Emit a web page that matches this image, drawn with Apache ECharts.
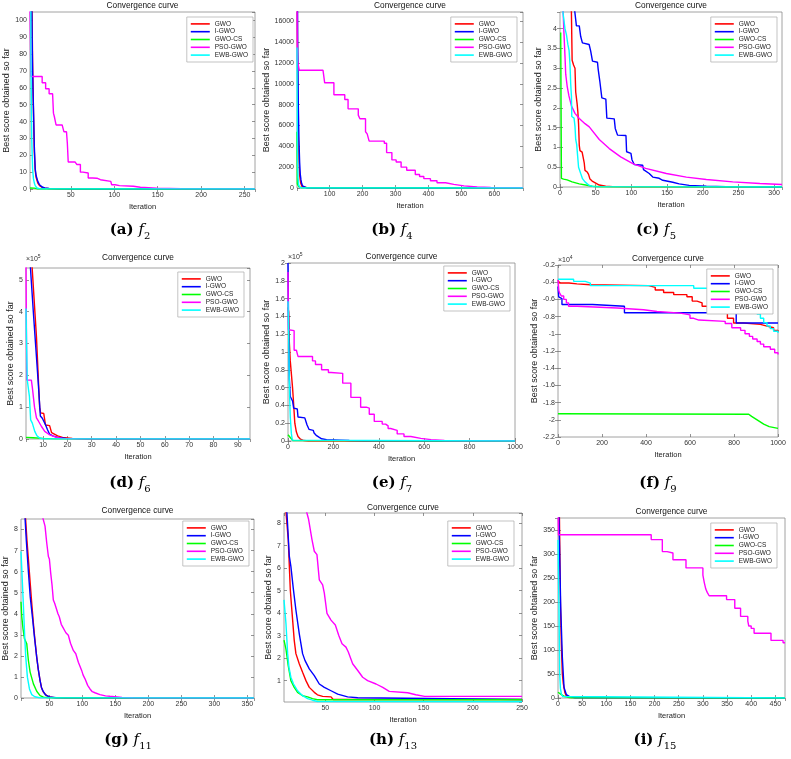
<!DOCTYPE html>
<html><head><meta charset="utf-8">
<script src="https://cdn.jsdelivr.net/npm/echarts@6/dist/echarts.min.js"></script>
<style>html,body{margin:0;padding:0;background:#fff}#c{width:791px;height:759px}</style>
</head><body><div id="c"></div>
<script>
// ---------------- DATA ----------------
const seriesNames = ['GWO', 'I-GWO', 'GWO-CS', 'PSO-GWO', 'EWB-GWO'];

// (a) f2
const f2_xRange = [3, 262, 50];
const f2_yRange = [0, 105, 10];
const f2_GWO = [[3,450],[4,220],[5,120],[6,75],[7,45],[8,22],[9,11],[10,7],[12,3.5],[14,2],[17,1],[20,0.5],[25,0.2],[35,0.05],[262,0]];
const f2_IGWO = [[3,400],[4,200],[5,110],[6,70],[7,48],[8,25],[9,12],[10,8],[12,4.5],[14,2.5],[17,1.2],[20,0.6],[25,0.3],[35,0.1],[50,0.03],[262,0]];
const f2_GWOCS = [[3,0.6],[8,0.5],[10,0.1],[12,0],[262,0]];
const f2_PSOGWO = [[3,110],[4,66.7],[17,63],[21,59.5],[25,56.5],[29,55.5],[30,45],[31,43],[33,38],[40,37],[42,34],[45,33],[46,27],[47,16],[55,15.5],[57,14.5],[61,10],[64,9.5],[70,6.5],[75,6.4],[80,5.5],[84,4.5],[96,3.5],[97,2.5],[101,2],[106,1.6],[122,1],[130,0.5],[149,0.25],[177,0.05],[262,0.02]];
const f2_EWBGWO = [[3,600],[4,80],[5,30],[6,12],[7,6],[8,3.5],[9,2],[11,0.6],[15,0.1],[262,0]];

// (b) f4
const f4_xRange = [1, 687, 100];
const f4_yRange = [0, 16900, 2000];
const f4_GWO = [[1,25000],[3,10000],[5,5000],[7,2500],[9,1200],[12,500],[16,150],[22,40],[35,5],[687,0]];
const f4_IGWO = [[1,30000],[3,14000],[5,8000],[7,4500],[9,2500],[11,1300],[13,800],[15,450],[18,200],[22,80],[30,20],[50,5],[687,0]];
const f4_GWOCS = [[1,5400],[2,400],[4,300],[6,150],[9,50],[14,10],[687,0]];
const f4_PSOGWO = [[1,20000],[2,12300],[8,11300],[80,11200],[85,10100],[113,8950],[146,8500],[156,7600],[187,7000],[192,6650],[209,5400],[214,5200],[220,4500],[266,4300],[273,3400],[289,2700],[302,2500],[317,2000],[334,1700],[360,1300],[373,1100],[386,900],[406,700],[426,500],[452,350],[477,200],[508,100],[548,50],[589,20],[687,5]];
const f4_EWBGWO = [[1,13500],[2,6000],[3,2500],[4,1000],[6,300],[10,50],[20,5],[687,0]];

// (c) f5
const f5_xRange = [0, 311, 50];
const f5_yRange = [0, 4.42, 0.5];
const f5_GWO = [[1,30],[10,8],[15,4.8],[16,4.4],[17,3.2],[19,3.08],[21,3.0],[22,2.4],[24,2.1],[25,1.9],[26,1.6],[27,1.05],[28,0.92],[31,0.88],[33,0.7],[34,0.6],[35,0.42],[38,0.38],[40,0.32],[42,0.2],[45,0.15],[50,0.1],[55,0.05],[64,0.02],[74,0.01],[100,0.003],[311,0]];
const f5_IGWO = [[1,40],[15,8],[20.6,4.45],[23,4.07],[27,4.07],[29,3.8],[31.4,3.64],[40.8,3.6],[43,3.43],[45.5,3.18],[52.5,3.15],[53.5,2.97],[55.8,2.67],[58.6,2.25],[64.2,2.22],[65.6,1.74],[76,1.72],[77.4,1.48],[80.6,1.31],[92.4,1.3],[93.3,0.89],[99.4,0.85],[100.8,0.69],[104,0.57],[115.8,0.55],[117,0.44],[125,0.34],[130,0.25],[139,0.22],[144,0.17],[158,0.12],[167,0.08],[181,0.04],[205,0.02],[233,0.01],[280,0.003],[311,0.001]];
const f5_GWOCS = [[1,3.9],[2,0.22],[5,0.2],[10,0.18],[17,0.13],[27,0.08],[36,0.05],[45,0.02],[55,0.005],[311,0]];
const f5_PSOGWO = [[1,12],[3,5.5],[4,4.6],[5.5,3.9],[7,3.3],[8,2.85],[10,2.55],[12.5,2.3],[16,2.05],[21,1.86],[27,1.73],[35,1.6],[41,1.52],[55,1.2],[69,0.97],[85,0.76],[102,0.59],[120,0.47],[149,0.34],[177,0.25],[205,0.19],[242,0.13],[280,0.09],[311,0.065]];
const f5_EWBGWO = [[1,40],[3,6],[4.2,4.4],[7,4.0],[9,3.85],[11,3.6],[12.7,3.45],[14,3.1],[15,2.6],[16,2.3],[16.5,1.78],[19.7,1.74],[21,1.53],[22,1.2],[23.4,1.07],[24.4,0.85],[26,0.5],[29,0.34],[31.5,0.21],[35,0.13],[41,0.04],[47,0.01],[311,0]];

// (d) f6  (values x 10^5)
const f6_xRange = [3, 95, 10];
const f6_yRange = [0, 5.37, 1];
const f6_yExp = '5';
const f6_GWO = [[3,9],[4,7],[5.5,5.4],[7.3,3.2],[8.6,1.0],[9,0.82],[10.3,0.8],[11,0.44],[12.7,0.42],[13.5,0.2],[14.1,0.14],[16,0.1],[18,0.05],[22,0.02],[30,0.005],[95,0]];
const f6_IGWO = [[3,8],[4.8,5.4],[6,4.0],[7,2.9],[8,1.8],[8.9,0.72],[9.7,0.65],[11,0.45],[11.8,0.3],[12.7,0.15],[14,0.1],[16,0.05],[19.5,0.02],[28,0.005],[95,0]];
const f6_GWOCS = [[3,0.05],[6,0.04],[10,0.02],[15,0.005],[95,0]];
const f6_PSOGWO = [[3,5.42],[3.3,1.85],[5.2,1.85],[5.6,1.62],[6.5,1.0],[7.3,0.66],[8.2,0.55],[9.3,0.4],[10.7,0.24],[12.5,0.14],[15.5,0.05],[18,0.02],[25,0.005],[95,0]];
const f6_EWBGWO = [[3,4.1],[3.5,1.86],[4,1.8],[4.4,1.34],[4.9,0.6],[5.6,0.5],[6.6,0.24],[7.5,0.1],[8.6,0.03],[10,0.005],[95,0]];

// (e) f7  (values x 10^5)
const f7_xRange = [0, 1000, 200];
const f7_yRange = [0, 2, 0.2];
const f7_yExp = '5';
const f7_GWO = [[0,1.5],[3,1.45],[6,1.1],[10,0.9],[16,0.88],[20,0.6],[24,0.45],[30,0.2],[37,0.1],[44,0.05],[55,0.02],[70,0.005],[90,0],[1000,0]];
const f7_IGWO = [[0,2.0],[3,1.2],[6,0.7],[10,0.5],[18,0.49],[20,0.45],[25,0.37],[41,0.36],[44,0.27],[74,0.26],[79,0.22],[84,0.18],[93,0.13],[111,0.12],[115,0.09],[126,0.06],[138,0.04],[148,0.025],[170,0.015],[230,0.01],[270,0.005],[333,0.001],[1000,0]];
const f7_GWOCS = [[0,0.07],[5,0.06],[10,0.04],[15,0.02],[22,0.005],[30,0],[1000,0]];
const f7_PSOGWO = [[0,1.9],[2,1.25],[4,1.24],[27,1.02],[37,1.0],[44,0.95],[108,0.9],[121,0.86],[148,0.8],[178,0.77],[190,0.76],[241,0.65],[277,0.49],[320,0.38],[345,0.37],[358,0.3],[380,0.22],[415,0.19],[430,0.17],[441,0.14],[452,0.12],[481,0.08],[511,0.05],[541,0.03],[585,0.015],[630,0.005],[689,0.001],[1000,0]];
const f7_EWBGWO = [[0,1.57],[3,1.2],[6,0.6],[10,0.27],[15,0.08],[19,0.01],[25,0],[1000,0]];

// (f) f9  (values x 10^4)
const f9_xRange = [0, 1000, 200];
const f9_yRange = [-2.2, -0.2, 0.2];
const f9_yExp = '4';
const f9_GWO = [[0,-0.38],[8,-0.41],[50,-0.42],[86,-0.43],[147,-0.44],[412,-0.46],[442,-0.49],[480,-0.52],[526,-0.545],[586,-0.57],[610,-0.62],[632,-0.64],[655,-0.68],[680,-0.72],[700,-0.745],[770,-0.82],[798,-0.875],[844,-0.89],[920,-0.91],[950,-0.93],[980,-0.96],[1000,-0.98]];
const f9_IGWO = [[0,-0.45],[3,-0.57],[10,-0.59],[18,-0.66],[157,-0.68],[302,-0.755],[810,-0.875],[1000,-0.875]];
const f9_GWOCS = [[0,-1.93],[867,-1.935],[880,-1.96],[905,-2.0],[935,-2.05],[960,-2.08],[1000,-2.1]];
const f9_PSOGWO = [[0,-0.37],[4,-0.5],[8,-0.53],[15,-0.56],[26,-0.6],[38,-0.64],[48,-0.68],[86,-0.7],[268,-0.72],[389,-0.74],[450,-0.76],[556,-0.78],[600,-0.82],[617,-0.84],[640,-0.855],[760,-0.88],[790,-0.93],[830,-0.96],[850,-1.0],[870,-1.03],[885,-1.06],[905,-1.09],[920,-1.12],[935,-1.15],[965,-1.18],[985,-1.22],[1000,-1.24]];
const f9_EWBGWO = [[0,-0.366],[71,-0.39],[124,-0.41],[147,-0.44],[617,-0.47],[685,-0.49],[829,-0.53],[845,-0.56],[859,-0.59],[870,-0.64],[880,-0.68],[889,-0.72],[905,-0.77],[920,-0.82],[935,-0.87],[950,-0.91],[965,-0.94],[980,-0.97],[1000,-0.99]];

// (g) f11
const f11_xRange = [7, 360, 50];
const f11_yRange = [0, 8.5, 1];
const f11_GWO = [[7,14],[10,11.5],[13,9],[16,7.5],[19.8,5.93],[23,4.6],[25.8,3.54],[28,2.8],[30.8,1.94],[33,1.4],[35.9,0.83],[38,0.5],[41,0.27],[46,0.11],[50,0.05],[58,0.02],[75,0],[360,0]];
const f11_IGWO = [[7,13],[10,10.5],[12,8.9],[13.2,8.5],[15,7.5],[18.2,6.0],[21,4.8],[24.8,3.7],[27,3.0],[30.8,1.94],[33,1.4],[35.9,0.83],[38,0.5],[40,0.35],[44,0.15],[50,0.05],[60,0.01],[360,0]];
const f11_GWOCS = [[7,4.57],[8.2,3.86],[10,3.3],[12.2,2.82],[15.7,2.58],[18.2,1.78],[20.8,1.23],[25.8,0.67],[30.8,0.32],[35.9,0.11],[41,0.04],[50,0.01],[360,0]];
const f11_PSOGWO = [[38,8.8],[43.4,8.16],[46,7.36],[48.5,6.72],[50,6.6],[52,5.93],[54,5.37],[56,4.65],[58,4.5],[61,4.41],[63,4.0],[65,3.86],[68,3.5],[71,3.46],[75,3.1],[78.7,2.98],[82,2.6],[86.3,2.26],[90,2.1],[93.9,1.7],[98.9,1.31],[101,1.1],[104,0.91],[108,0.6],[111.5,0.43],[115,0.3],[119,0.25],[126.6,0.16],[135,0.1],[141.7,0.08],[160,0.03],[177,0.01],[360,0]];
const f11_EWBGWO = [[7,6.96],[8.5,5.9],[10.7,4.33],[12.5,3.0],[14.2,1.94],[16.7,0.99],[19.8,0.43],[23.3,0.16],[28,0.06],[35,0.01],[360,0]];

// (h) f13
const f13_xRange = [8, 250, 50];
const f13_yRange = [0.05, 8.45, 1];
const f13_GWO = [[8,11],[10,8.5],[12.3,7.28],[14.4,5.04],[15.7,4.29],[18.4,2.79],[20.1,2.2],[23.5,1.75],[26.9,1.37],[30.3,1.0],[33.7,0.7],[38.8,0.48],[42,0.37],[47.3,0.3],[55.8,0.28],[58,0.16],[250,0.16]];
const f13_IGWO = [[8,10],[11,8.45],[13.4,6.53],[15,6.08],[17.4,5.11],[20.1,4.14],[23.5,3.09],[26.9,2.2],[29.3,1.9],[33.7,1.52],[38.8,1.22],[43.9,0.85],[49,0.7],[55.8,0.55],[62.6,0.4],[72.7,0.28],[83,0.24],[84,0.16],[250,0.16]];
const f13_GWOCS = [[8,2.8],[10,2.4],[12.3,1.67],[15,1.0],[18.4,0.7],[21.8,0.48],[26.9,0.33],[32,0.28],[37,0.2],[42,0.15],[250,0.15]];
const f13_PSOGWO = [[29,9],[31.3,8.45],[33,8.17],[36.4,7.28],[38.8,6.75],[41.5,6.6],[43.9,5.48],[47.3,5.26],[49,4.89],[51.7,3.99],[55.8,3.69],[60.2,3.47],[63.6,3.02],[67,2.64],[71,2.49],[73.4,2.27],[77.8,1.75],[83,1.45],[88,1.15],[93,1.0],[101.6,0.85],[108.4,0.7],[115,0.52],[133.8,0.46],[142,0.37],[151,0.3],[250,0.3]];
const f13_EWBGWO = [[8,4.59],[10,3.54],[11.7,2.2],[13,1.6],[15,1.15],[17.7,0.85],[21.8,0.55],[26.9,0.33],[32,0.2],[37,0.13],[42,0.07],[250,0.06]];

// (i) f15
const f15_xRange = [0, 470, 50];
const f15_yRange = [0, 375, 50];
const f15_GWO = [[0,600],[3,375],[5,200],[7,110],[9,50],[11,30],[14,12],[17,5],[22,1],[470,0]];
const f15_IGWO = [[0,900],[2,375],[5.6,190],[9,85],[12.5,22],[17.4,7],[24,3],[35,0.5],[470,0]];
const f15_GWOCS = [[0,12],[4,10],[7,7],[14,3],[28,0.5],[470,0]];
const f15_PSOGWO = [[0,400],[1,340],[193,330],[216,305],[226,302],[238,288],[265,271],[300,256],[303,240],[306,227],[309,220],[313,213],[349,205],[366,187],[378,170],[393,160],[395,150],[400,145],[406,135],[441,120],[466,115],[470,115]];
const f15_EWBGWO = [[0,329],[1,250],[2,190],[3.5,50],[5,20],[7,8],[10,3],[14,0.5],[470,0]];

const captionLetters = ['a','b','c','d','e','f','g','h','i'];
const captionSubs = ['2','4','5','6','7','9','11','13','15'];

// ---------------- PANELS ----------------
const panels = [
  {x:f2_xRange, y:f2_yRange, exp:null, data:[f2_GWO,f2_IGWO,f2_GWOCS,f2_PSOGWO,f2_EWBGWO], step:[0,0,0,1,0]},
  {x:f4_xRange, y:f4_yRange, exp:null, data:[f4_GWO,f4_IGWO,f4_GWOCS,f4_PSOGWO,f4_EWBGWO], step:[0,0,0,1,0]},
  {x:f5_xRange, y:f5_yRange, exp:null, data:[f5_GWO,f5_IGWO,f5_GWOCS,f5_PSOGWO,f5_EWBGWO], step:[0,0,0,0,0]},
  {x:f6_xRange, y:f6_yRange, exp:f6_yExp, data:[f6_GWO,f6_IGWO,f6_GWOCS,f6_PSOGWO,f6_EWBGWO], step:[0,0,0,0,0]},
  {x:f7_xRange, y:f7_yRange, exp:f7_yExp, data:[f7_GWO,f7_IGWO,f7_GWOCS,f7_PSOGWO,f7_EWBGWO], step:[0,0,0,1,0]},
  {x:f9_xRange, y:f9_yRange, exp:f9_yExp, data:[f9_GWO,f9_IGWO,f9_GWOCS,f9_PSOGWO,f9_EWBGWO], step:[1,1,0,1,1]},
  {x:f11_xRange, y:f11_yRange, exp:null, data:[f11_GWO,f11_IGWO,f11_GWOCS,f11_PSOGWO,f11_EWBGWO], step:[0,0,0,0,0]},
  {x:f13_xRange, y:f13_yRange, exp:null, data:[f13_GWO,f13_IGWO,f13_GWOCS,f13_PSOGWO,f13_EWBGWO], step:[0,0,0,0,0]},
  {x:f15_xRange, y:f15_yRange, exp:null, data:[f15_GWO,f15_IGWO,f15_GWOCS,f15_PSOGWO,f15_EWBGWO], step:[0,0,0,1,0]}
];

// layout (pixels) – kept separate from data
const layout = [
  {g:[30,12,225,177],  leg:[538,17], yGap:17,   titleY:6,   cap:[130,230]},
  {g:[297,12,226,176], leg:[274,17], yGap:23,   titleY:6,   cap:[392,230]},
  {g:[560,12,222,175], leg:[14,17],  yGap:15,   titleY:6,   cap:[656,230]},
  {g:[26,268,224,171], leg:[547,272],yGap:8,    titleY:258, cap:[130,483], expY:259},
  {g:[288,263,227,178],leg:[281,266],yGap:14,   titleY:257, cap:[392,483], expY:257},
  {g:[558,265,220,172],leg:[18,269], yGap:16,   titleY:259, cap:[658,483], expY:260},
  {g:[21,519,233,179], leg:[542,521],yGap:9,    titleY:511, cap:[128,740]},
  {g:[284,513,238,189],leg:[277,521],yGap:10.5, titleY:508, cap:[393,740]},
  {g:[558,518,227,180],leg:[14,523], yGap:15.5, titleY:512, cap:[655,740]}
];

const colors = ['#ff0000', '#0000ff', '#00ff00', '#ff00ff', '#00ffff'];
const fontSans = "'Liberation Sans', Arial, sans-serif";
const fontSerif = "'DejaVu Serif', 'Liberation Serif', serif";

function fmt(v) { return String(Math.round(v * 1e6) / 1e6); }
function onTick(v, iv) { const q = v / iv; return Math.abs(q - Math.round(q)) < 1e-6; }

function axis(r, k, pos, main, name, gap) {
  const mn = r[0], mx = r[1], iv = r[2];
  const isX = (pos === 'bottom' || pos === 'top');
  const a = {
    type: 'value', gridIndex: k, position: pos, min: mn, max: mx,
    minInterval: iv, maxInterval: iv, splitNumber: 5,
    axisLine: {show: false}, splitLine: {show: false},
    axisTick: {show: true, inside: true, length: 3, lineStyle: {color: '#666', width: 0.7}},
    axisLabel: {show: main, fontSize: 7, color: '#333', fontFamily: fontSans, margin: 3,
      showMinLabel: onTick(mn, iv), showMaxLabel: onTick(mx, iv), formatter: fmt}
  };
  if (main) {
    a.name = name; a.nameLocation = 'middle'; a.nameGap = gap;
    a.nameTextStyle = {fontSize: isX ? 7.5 : 9, color: '#222', fontFamily: fontSans};
  }
  return a;
}

const grid = [], xAxis = [], yAxis = [], series = [], legend = [], graphic = [];
panels.forEach((p, k) => {
  const L = layout[k];
  grid.push({left: L.g[0], top: L.g[1], width: L.g[2], height: L.g[3], show: true,
    borderColor: '#8a8a8a', borderWidth: 0.8, backgroundColor: '#fff'});
  xAxis.push(axis(p.x, k, 'bottom', true, 'Iteration', 13.5));
  xAxis.push(axis(p.x, k, 'top', false));
  yAxis.push(axis(p.y, k, 'left', true, 'Best score obtained so far', L.yGap));
  yAxis.push(axis(p.y, k, 'right', false));
  p.data.forEach((d, j) => {
    series.push({type: 'line', name: seriesNames[j], xAxisIndex: 2 * k, yAxisIndex: 2 * k,
      data: d, step: p.step[j] ? 'end' : false, symbol: 'none', showSymbol: false,
      lineStyle: {width: 1.4, color: colors[j]}, itemStyle: {color: colors[j]},
      silent: true, clip: true, animation: false});
  });
  legend.push({data: seriesNames, orient: 'vertical', right: L.leg[0], top: L.leg[1],
    icon: 'rect', itemWidth: 19, itemHeight: 1.6, itemGap: 0, padding: [3, 5, 3, 4],
    borderColor: '#aaa', borderWidth: 0.7, backgroundColor: '#fff', selectedMode: false,
    textStyle: {fontSize: 6.5, lineHeight: 7.8, color: '#222', fontFamily: fontSans}, z: 5});
  graphic.push({type: 'text', x: L.g[0] + L.g[2] / 2, y: L.titleY, silent: true, z: 100,
    style: {text: 'Convergence curve', fontSize: 8.3, fontFamily: fontSans, fill: '#111',
      align: 'center', verticalAlign: 'middle'}});
  graphic.push({type: 'text', x: L.cap[0], y: L.cap[1], silent: true, z: 100,
    style: {text: '{b|(' + captionLetters[k] + ')} {i|f}{s|' + captionSubs[k] + '}',
      fontSize: 15, fontFamily: fontSerif, lineHeight: 22, fill: '#000',
      align: 'center', verticalAlign: 'middle',
      rich: {
        b: {fontWeight: 'bold', fontSize: 15, fontFamily: fontSerif, lineHeight: 22, fill: '#000'},
        i: {fontStyle: 'italic', fontSize: 15, fontFamily: fontSerif, lineHeight: 22, fill: '#000'},
        s: {fontSize: 10, fontFamily: fontSerif, lineHeight: 10, verticalAlign: 'bottom', fill: '#000'}
      }}});
  if (p.exp) {
    graphic.push({type: 'text', x: L.g[0], y: L.expY, silent: true, z: 100,
      style: {text: '\u00d710{s|' + p.exp + '}', fontSize: 7, fontFamily: fontSans, lineHeight: 9,
        fill: '#333', align: 'left', verticalAlign: 'middle',
        rich: {s: {fontSize: 5, fontFamily: fontSans, lineHeight: 5, verticalAlign: 'top', fill: '#333'}}}});
  }
});

const chart = echarts.init(document.getElementById('c'), null, {renderer: 'canvas'});
chart.setOption({backgroundColor: '#fff', animation: false, grid, xAxis, yAxis, series, legend, graphic});
</script>
</body></html>
